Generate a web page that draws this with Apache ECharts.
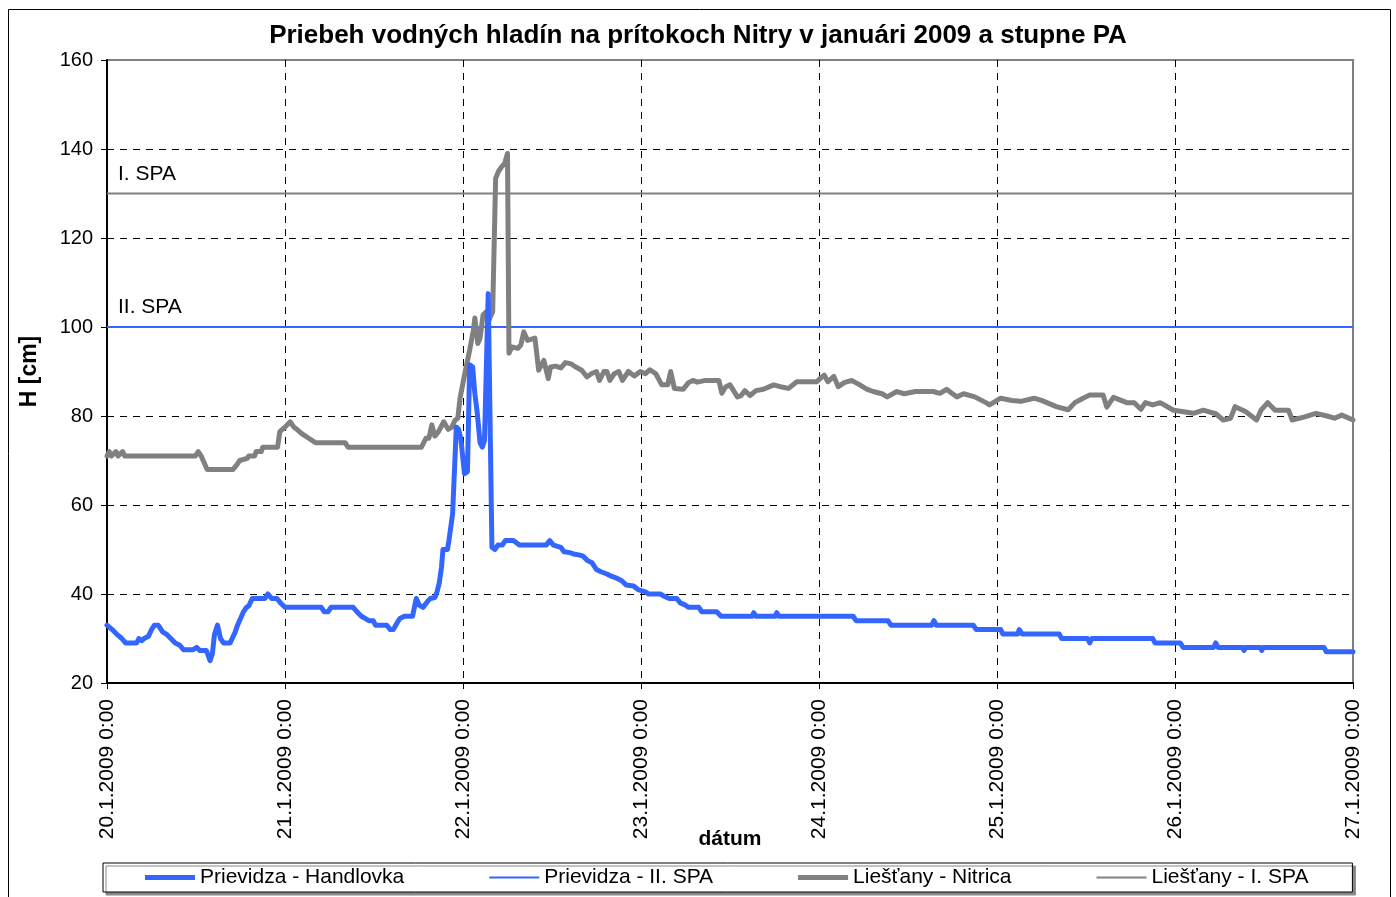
<!DOCTYPE html>
<html>
<head>
<meta charset="utf-8">
<title>Priebeh vodných hladín</title>
<script src="https://cdn.jsdelivr.net/npm/echarts@6/dist/echarts.min.js"></script>
<style>
  html, body { margin: 0; padding: 0; background: #fff; }
  #chart { width: 1396px; height: 897px; }
</style>
</head>
<body>
<div id="chart"></div>
<script>
// x = hodiny od 20.1.2009 0:00
var dayLabels = ['20.1.2009 0:00', '21.1.2009 0:00', '22.1.2009 0:00', '23.1.2009 0:00',
  '24.1.2009 0:00', '25.1.2009 0:00', '26.1.2009 0:00', '27.1.2009 0:00'];
var yTicks = [20, 40, 60, 80, 100, 120, 140, 160];

// Prievidza - Handlovka [hodina, cm]
var handlovka = [[0,33],[0.7,32],[1.3,31],[2,30],[2.5,29],[4,29],[4.3,30],[4.7,29.5],[5,30],[5.6,30.5],
  [6,32],[6.4,33],[6.9,33],[7.5,31.5],[8,31],[8.6,30],[9.2,29],[9.8,28.5],[10.3,27.5],[11.6,27.5],
  [12.1,28],[12.5,27.3],[13.4,27.3],[13.9,25],[14.2,26.5],[14.5,31],[14.9,33],[15.3,30],[15.7,29],[16.6,29],
  [17.3,31.5],[17.6,33],[18,34.5],[18.4,36],[18.8,37],[19.1,37.3],[19.6,39],[21.3,39],[21.7,40],[22.2,39],
  [22.9,39],[23.4,38],[24,37],[28.9,37],[29.3,36],[29.8,36],[30.2,37],[33.2,37],[33.7,36],[34.3,35],
  [34.8,34.5],[35.3,34],[35.9,34],[36.2,33],[37.7,33],[38.2,32],[38.6,32],[39.1,33.5],[39.5,34.5],[40.1,35],
  [41.2,35],[41.7,39],[42.1,37.5],[42.6,37],[43.3,38.5],[43.6,39],[44.2,39.2],[44.5,40.5],[44.8,42.5],[45.1,46],
  [45.3,50],[45.9,50],[46.1,52],[46.6,58],[47.1,77.5],[47.4,77],[47.7,75],[48.2,67],[48.6,67.5],[48.9,91.5],
  [49.3,91],[49.6,85],[49.9,81],[50.3,74],[50.6,73],[50.9,74.5],[51.4,107.5],[51.9,50.5],[52.3,50],[52.7,51],
  [53.3,51],[53.7,52],[54.8,52],[55.2,51.5],[55.6,51],[59.2,51],[59.7,52],[60.2,51],[61.2,50.5],[61.6,49.5],
  [62.4,49.3],[62.9,49],[63.6,48.8],[64.2,48.5],[64.8,47.5],[65.4,47],[66,45.5],[66.6,45],[67.4,44.5],[68,44],
  [68.8,43.5],[69.4,43],[70,42],[71,41.8],[71.6,41],[72.6,40.5],[73,40],[74.6,40],[75.1,39.5],[75.8,39],
  [76.8,39],[77.3,38],[78,37.5],[78.4,37],[79.8,37],[80.2,36],[82.2,36],[82.8,35],[87,35],[87.2,35.8],
  [87.5,35],[90.1,35],[90.3,35.8],[90.6,35],[100.6,35],[101,34],[105.3,34],[105.7,33],[111.2,33],[111.5,34],
  [111.8,33],[116.8,33],[117.2,32],[120.5,32],[120.8,31],[122.8,31],[123,32],[123.4,31],[128.4,31],[128.7,30],
  [132.2,30],[132.5,29],[132.8,30],[141,30],[141.3,29],[144.7,29],[145.1,28],[149.2,28],[149.5,29],[149.8,28],
  [153.1,28],[153.3,27.3],[153.5,28],[155.5,28],[155.7,27.3],[155.9,28],[164.1,28],[164.4,27],[168,27]];

// Liešťany - Nitrica [hodina, cm]
var nitrica = [[0,71],[0.3,72],[0.6,71],[1.2,72],[1.5,71],[2.1,72],[2.4,71],[11.9,71],[12.3,72],[12.7,71],
  [13.5,68],[17,68],[17.5,69],[17.9,70],[18.9,70.5],[19.1,71],[19.9,71],[20.1,72],[20.8,72],[21,73],
  [23,73],[23.3,76.5],[24,77.5],[24.7,78.7],[25.2,77.5],[25.6,77],[26.3,76],[27.2,75],[28.1,74],[32.1,74],
  [32.5,73],[42.4,73],[43,75],[43.4,75],[43.8,78],[44.2,75.5],[44.7,76.5],[45.4,78.7],[46,77],[46.5,77.5],
  [46.9,79],[47.3,79.5],[47.6,84],[48.3,90],[48.9,94.8],[49.4,99.3],[49.6,102],[50,96.3],[50.3,97.5],[50.7,102.7],
  [51.1,103.4],[51.5,101.5],[52,103.4],[52.4,133.4],[52.8,135],[53.2,136],[53.6,136.7],[54,139],[54.2,94.1],[54.6,95.5],
  [55.4,95.2],[55.8,96],[56.2,98.9],[56.7,97],[57.7,97.5],[58.2,90.3],[58.9,92.5],[59.5,88.4],[59.8,91],[60.5,91.2],
  [61.2,90.8],[61.8,92],[62.6,91.7],[63.2,91],[64,90.3],[64.7,88.8],[65.3,89.5],[66,90],[66.4,88],[67,90],
  [67.4,90],[67.8,88],[68.4,89.5],[69,90],[69.5,88],[70.3,90],[71.1,89],[71.9,90],[72.6,89.5],[73.2,90.4],
  [74,89.5],[74.8,87],[75.6,87],[76,90],[76.5,86.2],[77.7,86],[78.4,87.5],[79,88],[79.6,87.6],[80.7,88],
  [82.5,88],[82.9,85.1],[83.4,86.5],[84,87],[85,84.3],[85.5,84.6],[86,85.7],[86.7,84.6],[87.5,85.7],[88.5,86],
  [89.9,87],[91,86.5],[91.9,86.2],[93,87.7],[95.7,87.7],[96.2,88.5],[96.7,89.2],[97.2,87.7],[98,88.9],[98.6,86.6],
  [99.4,87.5],[100.4,88],[101.5,87],[102.5,86],[103.3,85.5],[104.5,85],[105.2,84.3],[106.5,85.5],[107.5,85],[109,85.5],
  [111.4,85.5],[112.3,85.1],[113.2,86],[114,85],[114.6,84.3],[115.5,85],[117,84.3],[118.5,83],[119,82.5],[120.5,84],
  [122,83.5],[123.2,83.3],[125,84],[126,83.5],[128,82.1],[129.6,81.4],[130.5,83],[131.6,84],[132.5,84.7],[134.3,84.7],
  [134.8,82],[135.7,84.2],[137.5,83],[138.5,83],[139.4,81.5],[140,83],[141,82.5],[142,83],[143.8,81.3],[146.5,80.6],
  [147.8,81.3],[149.5,80.5],[150.5,79.1],[151.5,79.5],[152.1,82.1],[153.5,81],[155,79.1],[155.6,81.3],[156.5,83],[157.5,81.3],
  [159.3,81.3],[159.8,79.1],[161.5,79.8],[163,80.6],[164.5,80],[165.5,79.5],[166.5,80.2],[168,79.1]];

// stupne povodnovej aktivity
var spaHours = [0, 168];
var spaII = 100;   // Prievidza
var spaI = 130;    // Liešťany

var blue = '#3366ff';
var gray = '#808080';
var font = "'Liberation Sans', Arial, sans-serif";
var thickIcon = 'path://M0,0H50V5H0Z';
var thinIcon = 'path://M0,0H50V2H0Z';

var myChart = echarts.init(document.getElementById('chart'));

function spaSeries(name, level, color, label) {
  return {
    name: name,
    type: 'line',
    data: spaHours.map(function (h) { return [h, level]; }),
    showSymbol: false,
    symbol: 'none',
    lineStyle: { color: color, width: 2 },
    itemStyle: { color: color },
    z: 3,
    markLine: {
      silent: true,
      symbol: 'none',
      lineStyle: { color: 'rgba(0,0,0,0)', width: 1, type: 'solid' },
      label: {
        show: true,
        position: 'insideStartTop',
        distance: [11, 9],
        formatter: label,
        color: '#000',
        fontSize: 21,
        fontFamily: font
      },
      data: [{ yAxis: level }]
    }
  };
}

var option = {
  animation: false,
  backgroundColor: '#fff',
  textStyle: { fontFamily: font },
  title: {
    text: 'Priebeh vodných hladín na prítokoch Nitry v januári 2009 a stupne PA',
    left: 'center',
    top: 18,
    textStyle: { fontSize: 26, fontWeight: 'bold', color: '#000', fontFamily: font }
  },
  graphic: [{
    type: 'rect',
    shape: { x: 8.5, y: 9.5, width: 1382, height: 900 },
    style: { fill: 'none', stroke: '#000', lineWidth: 1 },
    silent: true
  }],
  grid: {
    left: 107, right: 43, top: 60, bottom: 214,
    show: true,
    backgroundColor: '#fff',
    borderColor: gray,
    borderWidth: 2
  },
  legend: {
    bottom: 5,
    left: 103,
    padding: [4, 44, 4, 42],
    itemGap: 85,
    itemWidth: 50,
    itemHeight: 14,
    symbolKeepAspect: true,
    backgroundColor: '#fff',
    borderColor: '#000',
    borderWidth: 1,
    borderRadius: 0,
    shadowColor: '#888',
    shadowOffsetX: 3,
    shadowOffsetY: 3,
    shadowBlur: 0,
    textStyle: { fontSize: 21, color: '#000', fontFamily: font },
    data: [
      { name: 'Prievidza - Handlovka', icon: thickIcon },
      { name: 'Prievidza - II. SPA', icon: thinIcon },
      { name: 'Liešťany - Nitrica', icon: thickIcon },
      { name: 'Liešťany - I. SPA', icon: thinIcon }
    ]
  },
  xAxis: {
    type: 'value',
    min: 0,
    max: 168,
    interval: 24,
    name: 'dátum',
    nameLocation: 'middle',
    nameGap: 146,
    nameMoveOverlap: false,
    nameTextStyle: { fontSize: 21, fontWeight: 'bold', color: '#000', fontFamily: font },
    axisLine: { show: true, lineStyle: { color: '#000', width: 2 } },
    axisTick: { show: true, length: 6, lineStyle: { color: '#000', width: 1 } },
    axisLabel: {
      rotate: 90,
      margin: 16,
      fontSize: 21,
      color: '#000',
      fontFamily: font,
      formatter: function (v) { return dayLabels[Math.round(v / 24)]; }
    },
    splitLine: {
      show: true,
      showMinLine: false,
      showMaxLine: false,
      lineStyle: { color: '#000', width: 1, type: [7, 6] }
    }
  },
  yAxis: {
    type: 'value',
    min: yTicks[0],
    max: yTicks[yTicks.length - 1],
    interval: 20,
    name: 'H [cm]',
    nameLocation: 'middle',
    nameGap: 66,
    nameRotate: 90,
    nameMoveOverlap: false,
    nameTextStyle: { fontSize: 23, fontWeight: 'bold', color: '#000', fontFamily: font },
    axisLine: { show: true, lineStyle: { color: '#000', width: 2 } },
    axisTick: { show: true, length: 6, lineStyle: { color: '#000', width: 1 } },
    axisLabel: { margin: 14, fontSize: 20, color: '#000', fontFamily: font },
    splitLine: {
      show: true,
      showMinLine: false,
      showMaxLine: false,
      lineStyle: { color: '#000', width: 1, type: [7, 6] }
    }
  },
  series: [
    {
      name: 'Prievidza - Handlovka',
      type: 'line',
      data: handlovka,
      showSymbol: false,
      symbol: 'none',
      lineStyle: { color: blue, width: 5, join: 'round', cap: 'round' },
      itemStyle: { color: blue },
      z: 5
    },
    spaSeries('Prievidza - II. SPA', spaII, blue, 'II. SPA'),
    {
      name: 'Liešťany - Nitrica',
      type: 'line',
      data: nitrica,
      showSymbol: false,
      symbol: 'none',
      lineStyle: { color: gray, width: 5, join: 'round', cap: 'round' },
      itemStyle: { color: gray },
      z: 4
    },
    spaSeries('Liešťany - I. SPA', spaI, gray, 'I. SPA')
  ]
};

myChart.setOption(option);
</script>
</body>
</html>
